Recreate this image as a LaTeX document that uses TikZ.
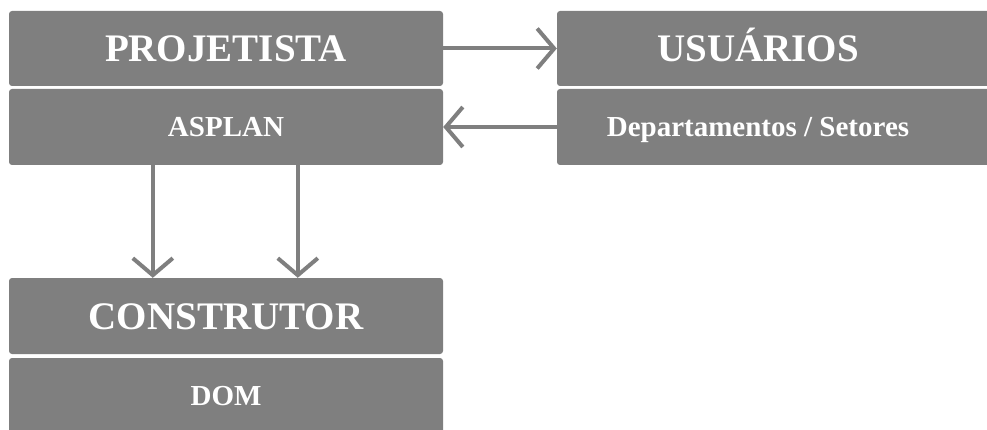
\documentclass[tikz,border=0pt]{standalone}
\usepackage{fontspec}
\setmainfont{Liberation Serif}
\usetikzlibrary{arrows.meta}
\definecolor{boxgray}{RGB}{127,127,127}
\tikzset{
  box/.style={fill=boxgray, rounded corners=3pt, minimum height=76pt, inner sep=0pt, text=white, font=\bfseries},
  leftbox/.style={box, minimum width=434pt},
  rightbox/.style={box, minimum width=438pt},
  big/.style={font=\fontsize{39}{41}\selectfont\bfseries, text height=26pt, text depth=0pt},
  small/.style={font=\fontsize{29}{31}\selectfont\bfseries, text height=19pt, text depth=0pt},
  conn/.style={draw=boxgray, line width=4pt, -{Straight Barb[length=17pt, width=40pt]}},
}
\begin{document}
\begin{tikzpicture}[x=1pt, y=-1pt]
\useasboundingbox (0,0) rectangle (987,430);
\clip (0,0) rectangle (987,430);
\node[leftbox, minimum height=75pt, big] (proj) at (226,48.5) {PROJETISTA};
\node[leftbox, small] (asp) at (226,127) {ASPLAN};
\node[rightbox, minimum height=75pt, label={[big, text=white, xshift=-18pt]center:USUÁRIOS}] (usu) at (776,48.5) {};
\node[rightbox, label={[small, text=white, xshift=-18pt]center:Departamentos / Setores}] (dep) at (776,127) {};
\node[leftbox, big] (con) at (226,316) {CONSTRUTOR};
\node[leftbox, small] (dom) at (226,396) {DOM};
\draw[conn] (proj.east) -- (usu.west);
\draw[conn] (dep.west) -- (asp.east);
\draw[conn] ([xshift=144pt]asp.south west) -- ([xshift=144pt]con.north west);
\draw[conn] ([xshift=289pt]asp.south west) -- ([xshift=289pt]con.north west);
\end{tikzpicture}
\end{document}
